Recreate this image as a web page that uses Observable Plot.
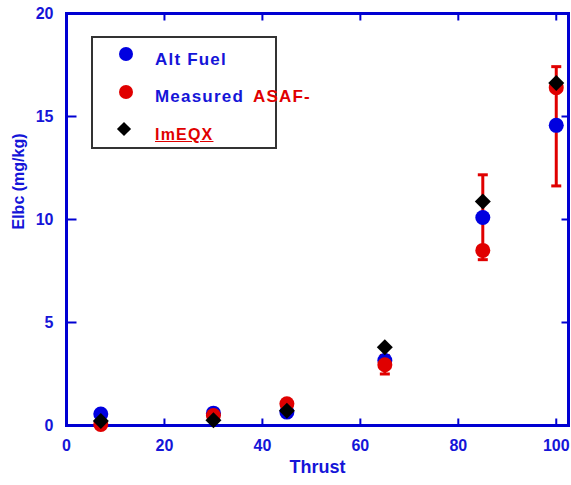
<!DOCTYPE html>
<html>
<head>
<meta charset="utf-8">
<script src="https://cdn.jsdelivr.net/npm/d3@7"></script>
<script src="https://cdn.jsdelivr.net/npm/@observablehq/plot@0.6"></script>
<style>
  html, body { margin: 0; padding: 0; background: #fff; }
  #wrap { position: relative; width: 571px; height: 485px; overflow: hidden; font-family: "Liberation Sans", Arial, sans-serif; }
  .legend { position: absolute; left: 91px; top: 36px; width: 182px; height: 109px; border: 2px solid #333; background: #fff; }
  .legend .mk { position: absolute; }
  .legend .txt { position: absolute; left: 62px; font-weight: bold; font-size: 17px; line-height: 17px; letter-spacing: 1.2px; white-space: nowrap; }
  .blue { color: #1515d8; }
  .red { color: #e00000; }
</style>
</head>
<body>
<div id="wrap">
  <div id="chart"></div>
  <div class="legend" id="legend"></div>
</div>
<script>
// ---- data ----
const thrust   = [7, 30, 45, 65, 85, 100];
const altFuel  = [0.56, 0.60, 0.65, 3.15, 10.10, 14.57];
const measured = [0.05, 0.48, 1.05, 2.95, 8.50, 16.40];
const imeqx    = [0.22, 0.25, 0.72, 3.80, 10.87, 16.63];
const errLow   = [null, null, null, 2.50, 8.05, 11.63];
const errHigh  = [null, null, null, 3.40, 12.17, 17.42];
const xTicks = [0, 20, 40, 60, 80, 100];
const yTicks = [0, 5, 10, 15, 20];
const xInnerTicks = [20, 40, 60, 80, 100];
const yInnerTicks = [5, 10, 15];
const seriesNames = ["Alt Fuel", "Measured", "ASAF-", "ImEQX"];
const xLabel = "Thrust";
const yLabel = "EIbc (mg/kg)";

const lineBlue = "#0000d2";
const textBlue = "#1515d8";
const red = "#e00000";
const dotBlue = "#0000e0";

const rows = thrust.map((t, i) => ({thrust: t, alt: altFuel[i], meas: measured[i], imeqx: imeqx[i], lo: errLow[i], hi: errHigh[i]}));
const errRows = rows.filter(d => d.lo != null);

const sym = (f) => ({draw: f});
const capSym = sym(c => { c.moveTo(-5, 0); c.lineTo(5, 0); });
const tickUp = sym(c => { c.moveTo(0, 0); c.lineTo(0, -7); });
const tickDown = sym(c => { c.moveTo(0, 0); c.lineTo(0, 7); });
const tickRight = sym(c => { c.moveTo(0, 0); c.lineTo(10, 0); });
const tickLeft = sym(c => { c.moveTo(0, 0); c.lineTo(-7, 0); });
const diamondSym = sym(c => { c.moveTo(0, -8); c.lineTo(8, 0); c.lineTo(0, 8); c.lineTo(-8, 0); c.closePath(); });

const chart = Plot.plot({
  width: 571,
  height: 485,
  marginLeft: 66,
  marginRight: 3,
  marginTop: 13,
  marginBottom: 60,
  style: {fontFamily: "'Liberation Sans', Arial, sans-serif", background: "white", overflow: "visible"},
  x: {domain: [0, 102.5]},
  y: {domain: [0, 20]},
  marks: [
    // error bars
    Plot.ruleX(errRows, {x: "thrust", y1: "lo", y2: "hi", stroke: red, strokeWidth: 3}),
    Plot.dot(errRows, {x: "thrust", y: "lo", symbol: capSym, fill: "none", stroke: red, strokeWidth: 3}),
    Plot.dot(errRows, {x: "thrust", y: "hi", symbol: capSym, fill: "none", stroke: red, strokeWidth: 3}),
    // inward ticks
    Plot.dot(xInnerTicks, {x: d => d, frameAnchor: "bottom", symbol: tickUp, fill: "none", stroke: lineBlue, strokeWidth: 2}),
    Plot.dot(xInnerTicks, {x: d => d, frameAnchor: "top", symbol: tickDown, fill: "none", stroke: lineBlue, strokeWidth: 2}),
    Plot.dot(yInnerTicks, {y: d => d, frameAnchor: "left", symbol: tickRight, fill: "none", stroke: lineBlue, strokeWidth: 2}),
    Plot.dot(yInnerTicks, {y: d => d, frameAnchor: "right", symbol: tickLeft, fill: "none", stroke: lineBlue, strokeWidth: 2}),
    Plot.frame({stroke: lineBlue, strokeWidth: 3}),
    // data points
    Plot.dot(rows, {x: "thrust", y: "alt", r: 7.5, fill: dotBlue, stroke: "none"}),
    Plot.dot(rows, {x: "thrust", y: "meas", r: 7.5, fill: red, stroke: "none"}),
    Plot.dot(rows, {x: "thrust", y: "imeqx", symbol: diamondSym, fill: "#000", stroke: "none"}),
    // axes (labels only)
    Plot.axisX({ticks: xTicks, tickSize: 0, tickPadding: 14, fontSize: 16, fontWeight: "bold", color: textBlue, label: null}),
    Plot.axisY({ticks: yTicks, tickSize: 0, tickPadding: 13, fontSize: 16, fontWeight: "bold", color: textBlue, label: null}),
    Plot.text([xLabel], {frameAnchor: "bottom", dy: 47, fontSize: 18, fontWeight: "bold", fill: textBlue}),
    Plot.text([yLabel], {frameAnchor: "left", rotate: -90, dx: -48, dy: 10, fontSize: 16, fontWeight: "bold", fill: textBlue})
  ]
});
document.getElementById("chart").appendChild(chart);

// legend
const lg = document.getElementById("legend");
lg.innerHTML = `
  <div class="mk" style="left:26px;top:9px;width:14px;height:14px;border-radius:50%;background:${dotBlue}"></div>
  <div class="txt blue" style="top:12.5px">${seriesNames[0]}</div>
  <div class="mk" style="left:26px;top:47px;width:14px;height:14px;border-radius:50%;background:${red}"></div>
  <div class="txt blue" style="top:49.5px">${seriesNames[1]}<span class="red" style="margin-left:9px">${seriesNames[2]}</span></div>
  <div class="mk" style="left:26px;top:86px;width:10px;height:10px;background:#000;transform:rotate(45deg)"></div>
  <div class="txt red" style="top:87.5px;text-decoration:underline;font-size:16px">${seriesNames[3]}</div>
`;
</script>
</body>
</html>
